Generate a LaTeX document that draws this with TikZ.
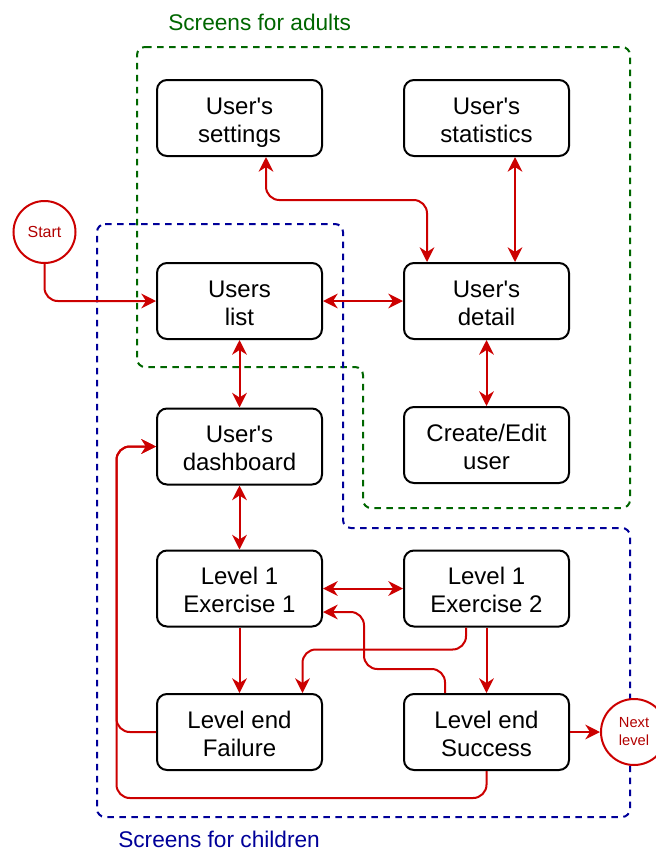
\documentclass[tikz,border=0pt]{standalone}
\usepackage{fontspec}
\setmainfont{Liberation Sans}
\usetikzlibrary{arrows.meta,calc,shapes.geometric}
\definecolor{cred}{HTML}{CC0000}
\definecolor{ctxtred}{HTML}{B20000}
\definecolor{cgreen}{HTML}{006600}
\definecolor{cblue}{HTML}{000099}
\newcommand\twol[2]{\rule{0pt}{19pt}#1\\#2\rule[-4pt]{0pt}{4pt}}
\tikzset{
  screen/.style={draw=black, line width=1.5pt, rounded corners=7.5pt, fill=white,
    minimum width=123.75pt, minimum height=57pt, align=center, inner sep=0pt,
    font=\fontsize{18}{21}\selectfont},
  term/.style={draw=cred, line width=1.5pt, fill=white, text=ctxtred, align=center, inner sep=0pt},
  arr/.style={draw=cred, line width=1.5pt, -{Stealth[length=11pt,width=11pt,inset=3.5pt]}},
  biarr/.style={draw=cred, line width=1.5pt, {Stealth[length=11pt,width=11pt,inset=3.5pt]}-{Stealth[length=11pt,width=11pt,inset=3.5pt]}},
  region/.style={line width=1.5pt, dash pattern=on 5pt off 4pt, rounded corners=6pt},
}
\begin{document}
\begin{tikzpicture}[x=0.75pt,y=-0.75pt]
\useasboundingbox (0,0) rectangle (656,850);
% regions
\draw[region, draw=cgreen] (137,47) -- (630,47) -- (630,508) -- (363,508) -- (363,367) -- (137,367) -- cycle;
\draw[region, draw=cblue] (97,224) -- (343,224) -- (343,528) -- (630,528) -- (630,817) -- (97,817) -- cycle;
\node[anchor=west, inner sep=0pt, text=cgreen, font=\fontsize{17}{20}\selectfont] (lbladults) at (168,22) {Screens for adults};
\node[anchor=west, inner sep=0pt, text=cblue, font=\fontsize{17}{20}\selectfont] (lblchildren) at (118,839) {Screens for children};
% screens
\node[screen] (settings) at (239.5,118) {\twol{User\textquotesingle s}{settings}};
\node[screen] (stats) at (486.5,118) {\twol{User\textquotesingle s}{statistics}};
\node[screen] (list) at (239.5,301) {\twol{Users}{list}};
\node[screen] (detail) at (486.5,301) {\twol{User\textquotesingle s}{detail}};
\node[screen] (dash) at (239.5,446.5) {\twol{User\textquotesingle s}{dashboard}};
\node[screen] (create) at (486.5,445) {\twol{Create/Edit}{user}};
\node[screen] (ex1) at (239.5,588.5) {\twol{Level 1}{Exercise 1}};
\node[screen] (ex2) at (486.5,588.5) {\twol{Level 1}{Exercise 2}};
\node[screen] (fail) at (239.5,732) {\twol{Level end}{Failure}};
\node[screen] (succ) at (486.5,732) {\twol{Level end}{Success}};
\node[term, circle, minimum size=46.5pt, font=\fontsize{12}{14}\selectfont] (start) at (44.5,232) {Start};
\node[term, circle, minimum size=49.5pt, font=\fontsize{11}{13.5}\selectfont] (next) at (634,732) {Next\\level};
% connectors
\draw[arr, rounded corners=10pt] (start.south) |- (list.west);
\draw[biarr] (list.east) -- (detail.west);
\draw[biarr, rounded corners=10pt] ($(settings.south)+(26.5,0)$) |- ($(detail.north)+(-59.5,-62)$) -- ($(detail.north)+(-59.5,0)$);
\draw[biarr] ($(stats.south)+(28.5,0)$) -- ($(detail.north)+(28.5,0)$);
\draw[biarr] (list.south) -- (dash.north);
\draw[biarr] (detail.south) -- (create.north);
\draw[biarr] (dash.south) -- (ex1.north);
\draw[biarr] (ex1.east) -- (ex2.west);
\draw[arr] (ex1.south) -- (fail.north);
\draw[arr] (ex2.south) -- (succ.north);
\draw[arr, rounded corners=10pt] ($(ex2.south)+(-20.5,0)$) -- ++(0,22) -| ($(fail.north)+(63,0)$);
\draw[arr, rounded corners=10pt] ($(succ.north)+(-41.5,0)$) -- ++(0,-24) -| ($(ex1.east)+(41,23.5)$) -- ($(ex1.east)+(0,23.5)$);
\draw[arr, rounded corners=10pt] (fail.west) -- ++(-39.5,0) |- (dash.west);
\draw[arr, rounded corners=10pt] (succ.south) -- ++(0,27) -| ($(dash.west)+(-39.5,0)$) -- (dash.west);
\draw[arr] (succ.east) -- (next.west);
\end{tikzpicture}
\end{document}
